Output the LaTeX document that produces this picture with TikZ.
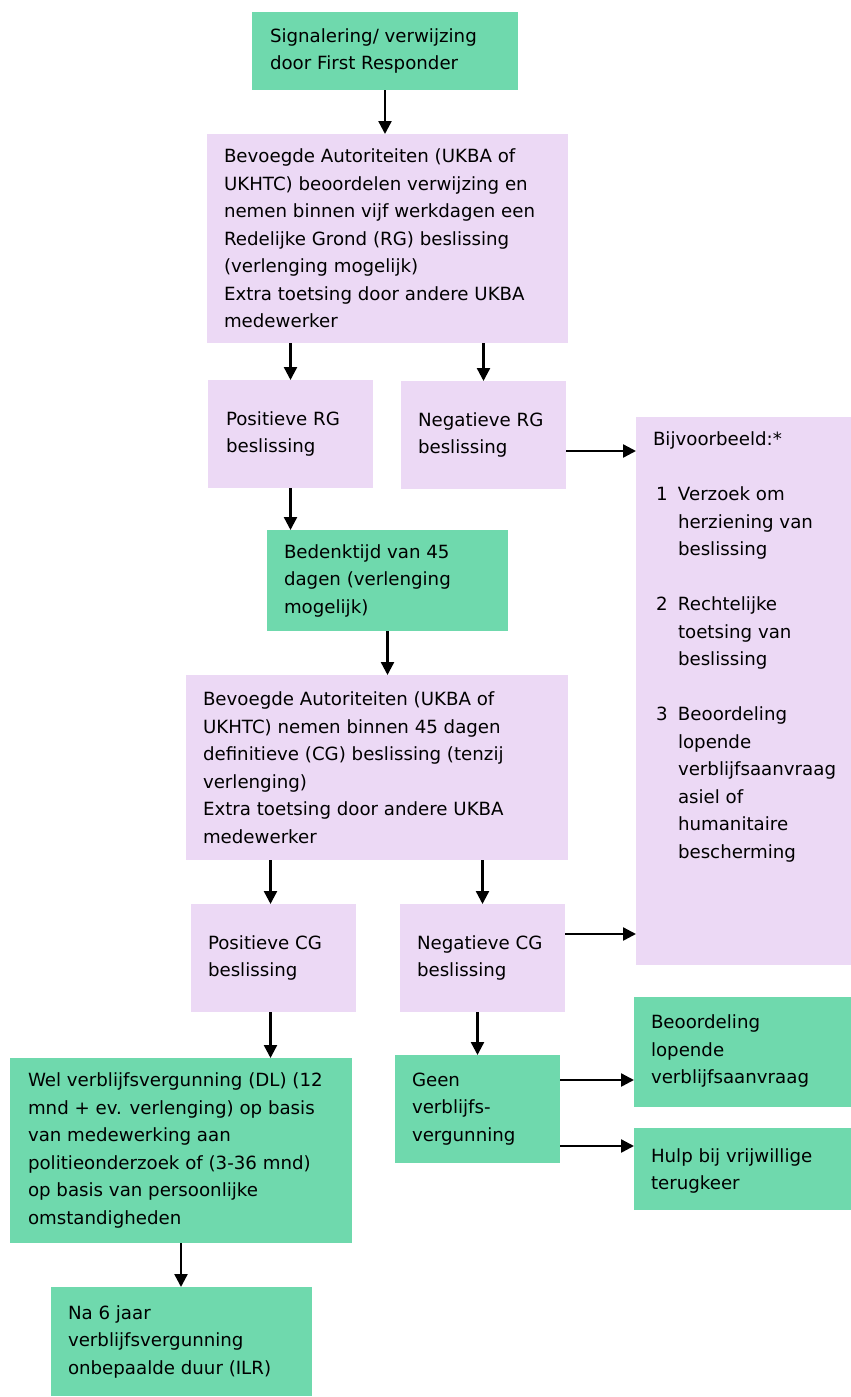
\documentclass[tikz,border=0pt]{standalone}
\usepackage{fontspec}
\setmainfont{DejaVu Sans}
\usetikzlibrary{calc,arrows.meta}

\definecolor{boxgreen}{RGB}{111,217,173}
\definecolor{boxpink}{RGB}{236,217,245}

\begin{document}
\begin{tikzpicture}[x=1pt,y=-1pt,outer sep=0pt,
    every node/.style={font=\fontsize{18.2}{27.5}\selectfont},
    box/.style={anchor=north west, inner sep=0pt},
    greenbox/.style={box, fill=boxgreen},
    pinkbox/.style={box, fill=boxpink},
    txt/.style={anchor=west, inner sep=0pt, align=left},
    arr/.style={line width=2.4pt, -{Triangle[length=13pt,width=13pt]}}]
    \useasboundingbox (0,0) rectangle (851,1397);

    % first steps
    \node[greenbox, minimum width=266pt, minimum height=78pt] (first) at (252,12) {};
    \node[txt] (first_txt) at ($(first.west) + (18pt, 0)$)
    {Signalering/ verwijzing\\door First Responder};

    \node[pinkbox, minimum width=361pt, minimum height=209pt] (rg) at (207,134) {};
    \node[txt] (rg_txt) at ($(rg.west) + (17pt, 0)$)
    {Bevoegde Autoriteiten (UKBA of\\UKHTC) beoordelen verwijzing en\\nemen binnen vijf werkdagen een\\Redelijke Grond (RG) beslissing\\(verlenging mogelijk)\\Extra toetsing door andere UKBA\\medewerker};

    \node[pinkbox, minimum width=165pt, minimum height=108pt] (pos_rg) at (208,380) {};
    \node[txt] (pos_rg_txt) at ($(pos_rg.west) + (18pt, 0)$) {Positieve RG\\beslissing};
    \node[pinkbox, minimum width=165pt, minimum height=108pt] (neg_rg) at (401,381) {};
    \node[txt] (neg_rg_txt) at ($(neg_rg.west) + (17pt, 0)$) {Negatieve RG\\beslissing};

    % examples on the right
    \node[pinkbox, minimum width=215pt, minimum height=548pt] (ex) at (636,417) {};
    \node[txt, anchor=north west] (ex_txt) at ($(ex.north west) + (17pt, -15pt)$)
    {Bijvoorbeeld:*\\[27.5pt]
     \makebox[25pt][l]{\,1}Verzoek om\\
     \hspace*{25pt}herziening van\\
     \hspace*{25pt}beslissing\\[27.5pt]
     \makebox[25pt][l]{\,2}Rechtelijke\\
     \hspace*{25pt}toetsing van\\
     \hspace*{25pt}beslissing\\[27.5pt]
     \makebox[25pt][l]{\,3}Beoordeling\\
     \hspace*{25pt}lopende\\
     \hspace*{25pt}verblijfsaanvraag\\
     \hspace*{25pt}asiel of\\
     \hspace*{25pt}humanitaire\\
     \hspace*{25pt}bescherming};

    \node[greenbox, minimum width=241pt, minimum height=101pt] (bed) at (267,530) {};
    \node[txt] (bed_txt) at ($(bed.west) + (17pt, 0)$)
    {Bedenktijd van 45\\dagen (verlenging\\mogelijk)};

    \node[pinkbox, minimum width=382pt, minimum height=185pt] (cg) at (186,675) {};
    \node[txt] (cg_txt) at ($(cg.west) + (17pt, 0)$)
    {Bevoegde Autoriteiten (UKBA of\\UKHTC) nemen binnen 45 dagen\\definitieve (CG) beslissing (tenzij\\verlenging)\\Extra toetsing door andere UKBA\\medewerker};

    \node[pinkbox, minimum width=165pt, minimum height=108pt] (pos_cg) at (191,904) {};
    \node[txt] (pos_cg_txt) at ($(pos_cg.west) + (17pt, 0)$) {Positieve CG\\beslissing};
    \node[pinkbox, minimum width=165pt, minimum height=108pt] (neg_cg) at (400,904) {};
    \node[txt] (neg_cg_txt) at ($(neg_cg.west) + (17pt, 0)$) {Negatieve CG\\beslissing};

    % outcomes
    \node[greenbox, minimum width=342pt, minimum height=185pt] (wel) at (10,1058) {};
    \node[txt] (wel_txt) at ($(wel.west) + (18pt, 0)$)
    {Wel verblijfsvergunning (DL) (12\\mnd + ev. verlenging) op basis\\van medewerking aan\\politieonderzoek of (3-36 mnd)\\op basis van persoonlijke\\omstandigheden};

    \node[greenbox, minimum width=165pt, minimum height=108pt] (geen) at (395,1055) {};
    \node[txt] (geen_txt) at ($(geen.west) + (17pt, 0)$) {Geen\\verblijfs-\\vergunning};

    \node[greenbox, minimum width=217pt, minimum height=110pt] (beo) at (634,997) {};
    \node[txt, anchor=north west] (beo_txt) at ($(beo.north west) + (17pt, -18pt)$)
    {Beoordeling\\lopende\\verblijfsaanvraag};

    \node[greenbox, minimum width=217pt, minimum height=82pt] (hulp) at (634,1128) {};
    \node[txt] (hulp_txt) at ($(hulp.west) + (17pt, -2pt)$) {Hulp bij vrijwillige\\terugkeer};

    \node[greenbox, minimum width=261pt, minimum height=109pt] (ilr) at (51,1287) {};
    \node[txt] (ilr_txt) at ($(ilr.west) + (17pt, 0)$)
    {Na 6 jaar\\verblijfsvergunning\\onbepaalde duur (ILR)};

    % arrows
    \draw[arr] (first.south) -- (first.south |- rg.north);
    \draw[arr] (pos_rg.north |- rg.south) -- (pos_rg.north);
    \draw[arr] (neg_rg.north |- rg.south) -- (neg_rg.north);
    \draw[arr] ([yshift=-16pt]neg_rg.east) -- ([yshift=-16pt]neg_rg.east -| ex.west);
    \draw[arr] (pos_rg.south) -- (pos_rg.south |- bed.north);
    \draw[arr] (bed.south) -- (bed.south |- cg.north);
    \draw[arr] ([xshift=-3pt]pos_cg.north |- cg.south) -- ([xshift=-3pt]pos_cg.north);
    \draw[arr] (neg_cg.north |- cg.south) -- (neg_cg.north);
    \draw[arr] ([yshift=24pt]neg_cg.east) -- ([yshift=24pt]neg_cg.east -| ex.west);
    \draw[arr] ([xshift=-3pt]pos_cg.south) -- ([xshift=-3pt]pos_cg.south |- wel.north);
    \draw[arr] (geen.north |- neg_cg.south) -- (geen.north);
    \draw[arr] ([yshift=29pt]geen.east) -- ([yshift=29pt]geen.east -| beo.west);
    \draw[arr] ([yshift=-37pt]geen.east) -- ([yshift=-37pt]geen.east -| hulp.west);
    \draw[arr] (wel.south) -- (wel.south |- ilr.north);
\end{tikzpicture}
\end{document}
